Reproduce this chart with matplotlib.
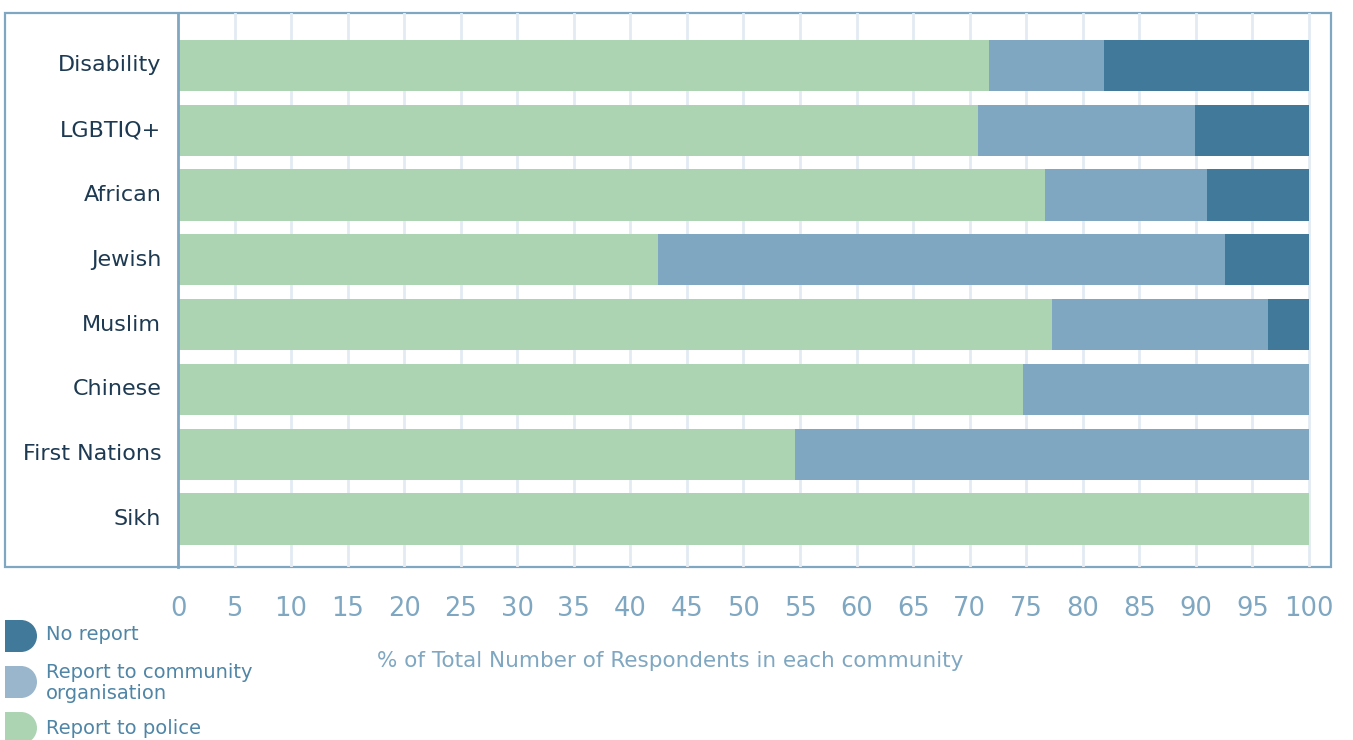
import matplotlib.pyplot as plt
import matplotlib.transforms as mtransforms
from matplotlib.patches import Rectangle, Wedge

# data (percent of respondents in each community)
communities = ["Disability", "LGBTIQ+", "African", "Jewish", "Muslim", "Chinese", "First Nations", "Sikh"]
police = [71.7, 70.7, 76.7, 42.4, 77.3, 74.7, 54.6, 100.0]
community_org = [10.2, 19.2, 14.3, 50.2, 19.1, 25.3, 45.4, 0.0]
no_report = [18.1, 10.1, 9.0, 7.4, 3.6, 0.0, 0.0, 0.0]

series_names = ["No report", "Report to community\norganisation", "Report to police"]
xticks = list(range(0, 101, 5))

c_police = "#acd4b3"
c_comm = "#80a7c1"
c_none = "#41799b"
c_legend_comm = "#9ab6cc"
c_frame = "#7fa7c1"
c_grid = "#e3eaf2"
c_label = "#1d3a52"
c_text = "#4f85a6"

W, H = 1353, 740
fig = plt.figure(figsize=(W / 100, H / 100), dpi=100)

# background overlay in pixel coords for frame + legend
bg = fig.add_axes([0, 0, 1, 1], zorder=0)
bg.set_xlim(0, W)
bg.set_ylim(H, 0)
bg.axis("off")
bg.add_patch(Rectangle((5, 13), 1326, 554, fill=False, edgecolor=c_frame, lw=1.6))

ax = fig.add_axes([178 / W, (H - 567) / H, (1331 - 178) / W, (567 - 13) / H], zorder=1)
ax.patch.set_alpha(0)

y = list(range(len(communities)))
left2 = [p + c for p, c in zip(police, community_org)]
ax.barh(y, police, height=0.79, color=c_police, zorder=2)
ax.barh(y, community_org, left=police, height=0.79, color=c_comm, zorder=2)
ax.barh(y, no_report, left=left2, height=0.79, color=c_none, zorder=2)

ax.set_xlim(0, 101.95)
ax.set_ylim(7.74, -0.81)
ax.set_xticks(xticks)
ax.set_xticklabels([str(t) for t in xticks], fontsize=18.5, color=c_frame)
ax.set_yticks(y)
ax.set_yticklabels(communities, fontsize=16, color=c_label)
ax.tick_params(axis="both", length=0)
ax.tick_params(axis="x", pad=21)
ax.tick_params(axis="y", pad=12)
shift = mtransforms.ScaledTranslation(0, 2 / 100, fig.dpi_scale_trans)
for lbl in ax.get_yticklabels():
    lbl.set_transform(lbl.get_transform() + shift)
for t in xticks[1:]:
    ax.axvline(t, color=c_grid, lw=2, zorder=1)
for s in ["top", "right", "bottom"]:
    ax.spines[s].set_visible(False)
ax.spines["left"].set_color(c_frame)
ax.spines["left"].set_linewidth(2)

ax.set_xlabel("% of Total Number of Respondents in each community", fontsize=15.5,
              color=c_frame, labelpad=21, x=0.427)

# legend with D-shaped swatches
leg_colors = [c_none, c_legend_comm, c_police]
leg_y = [636, 682, 728]
text_y = [635, 683, 729]
for col, yy, ty, name in zip(leg_colors, leg_y, text_y, series_names):
    bg.add_patch(Rectangle((5, yy - 16), 16, 32, color=col, lw=0))
    bg.add_patch(Wedge((21, yy), 16, -90, 90, color=col, lw=0))
    bg.text(46, ty, name, fontsize=14, color=c_text, va="center", ha="left", linespacing=1.15)

fig.savefig("out.png", dpi=100)
